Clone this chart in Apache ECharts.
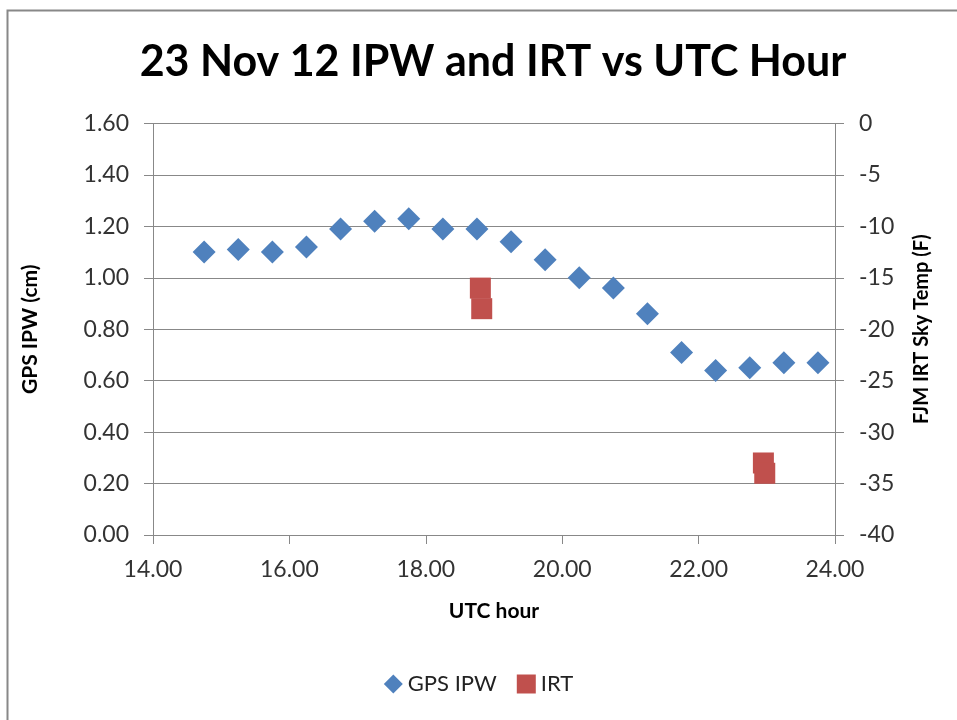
<!DOCTYPE html>
<html>
<head>
<meta charset="utf-8">
<script src="https://cdn.jsdelivr.net/npm/echarts@6/dist/echarts.min.js"></script>
<style>
html,body{margin:0;padding:0;background:#fff;}
#c{width:957px;height:720px;}
</style>
</head>
<body>
<div id="c"></div>
<script>
const ipwHours = [14.75,15.25,15.75,16.25,16.75,17.25,17.75,18.25,18.75,19.25,19.75,20.25,20.75,21.25,21.75,22.25,22.75,23.25,23.75];
const ipwValues = [1.10,1.11,1.10,1.12,1.19,1.22,1.23,1.19,1.19,1.14,1.07,1.00,0.96,0.86,0.71,0.64,0.65,0.67,0.67];
const irtHours = [18.80,18.82,22.95,22.97];
const irtTemps = [-16,-18,-33,-34];

const FONT = 'Lato';
const chart = echarts.init(document.getElementById('c'));
chart.setOption({
  backgroundColor:'#fff',
  animation:false,
  title:{
    text:'23 Nov 12 IPW and IRT vs UTC Hour',
    left:488, top:36, textAlign:'center',
    textStyle:{fontFamily:FONT,fontWeight:'bold',fontSize:43,color:'#000'}
  },
  graphic:[{type:'rect',shape:{x:7.5,y:10.5,width:1200,height:1200},style:{fill:null,stroke:'#888',lineWidth:2},silent:true}],
  legend:{
    bottom:20, left:'center', itemGap:20, itemWidth:19, itemHeight:19,
    textStyle:{fontFamily:FONT,fontSize:22,color:'#222'},
    data:[{name:'GPS IPW',icon:'diamond'},{name:'IRT',icon:'rect'}]
  },
  grid:{left:153,right:122,top:123.5,bottom:185},
  xAxis:{
    type:'value',min:14,max:24,interval:2,
    name:'UTC hour',nameLocation:'middle',nameGap:66,
    nameTextStyle:{fontFamily:FONT,fontWeight:'bold',fontSize:21,color:'#000'},
    axisLine:{show:true,lineStyle:{color:'#888'}},
    axisTick:{show:true,length:9,lineStyle:{color:'#888'}},
    axisLabel:{fontFamily:FONT,fontSize:23,color:'#333',margin:23,formatter:v=>v.toFixed(2)},
    splitLine:{show:false}
  },
  yAxis:[{
    type:'value',min:0,max:1.6,interval:0.2,
    name:'GPS IPW (cm)',nameLocation:'middle',nameGap:112,nameRotate:90,
    nameTextStyle:{fontFamily:FONT,fontWeight:'bold',fontSize:21,color:'#000'},
    axisLine:{show:true,lineStyle:{color:'#888'}},
    axisTick:{show:true,length:9,lineStyle:{color:'#888'}},
    axisLabel:{fontFamily:FONT,fontSize:23,color:'#333',margin:24,formatter:v=>v.toFixed(2)},
    splitLine:{show:true,lineStyle:{color:'#888',width:1}}
  },{
    type:'value',min:-40,max:0,interval:5,position:'right',
    name:'FJM IRT Sky Temp (F)',nameLocation:'middle',nameGap:77,nameRotate:90,
    nameTextStyle:{fontFamily:FONT,fontWeight:'bold',fontSize:20,color:'#000'},
    axisLine:{show:true,lineStyle:{color:'#888'}},
    axisTick:{show:true,length:9,lineStyle:{color:'#888'}},
    axisLabel:{fontFamily:FONT,fontSize:23,color:'#333',margin:24},
    splitLine:{show:false}
  }],
  series:[{
    name:'GPS IPW',type:'scatter',yAxisIndex:0,symbol:'diamond',symbolSize:23,
    itemStyle:{color:'#4F81BD',opacity:1},
    data:ipwHours.map((h,i)=>[h,ipwValues[i]])
  },{
    name:'IRT',type:'scatter',yAxisIndex:1,symbol:'rect',symbolSize:21,
    itemStyle:{color:'#C0504D',opacity:1},
    data:irtHours.map((h,i)=>[h,irtTemps[i]])
  }]
});
</script>
</body>
</html>
